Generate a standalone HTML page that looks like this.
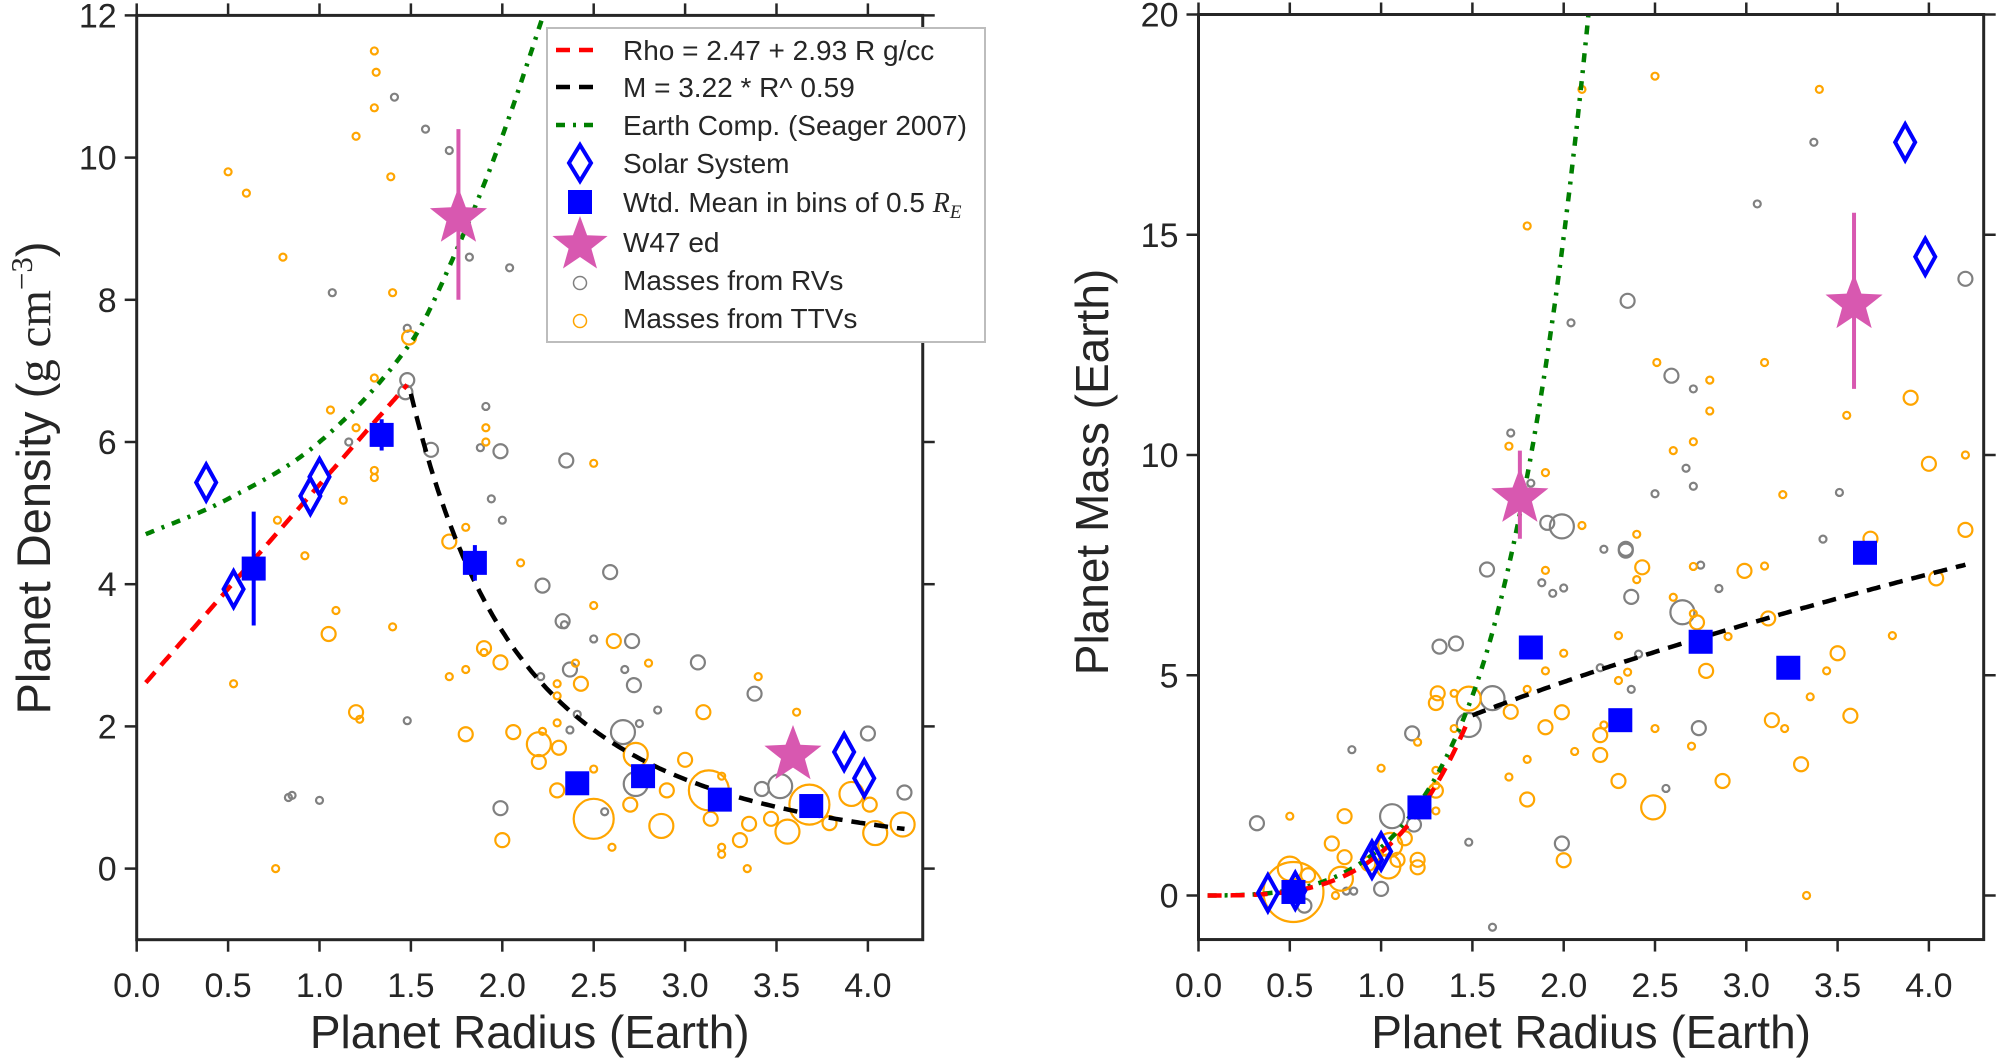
<!DOCTYPE html>
<html><head><meta charset="utf-8"><style>
html,body{margin:0;padding:0;background:#fff;}
svg{display:block;}
text{font-family:"Liberation Sans",sans-serif;fill:#262626;}
</style></head><body>
<svg id="chart" width="2000" height="1060" viewBox="0 0 2000 1060" xmlns="http://www.w3.org/2000/svg">
<g id="left"></g>
<g id="right"></g>
</svg>
<script>
// ---------- data ----------
const rvR   = [1.41,1.58,1.71,1.82,2.04,1.07,1.48,1.48,1.47,1.91,1.61,1.88,1.99,2.35,1.16,1.94,2.0,2.22,2.59,2.33,2.34,2.50,2.71,2.67,2.72,2.37,2.21,3.07,3.38,2.85,2.41,2.66,2.75,2.37,2.73,3.42,3.52,4.0,4.2,2.56,1.99,1.48,0.83,0.85,1.0];
const rvRho = [10.85,10.4,10.1,8.6,8.45,8.1,7.6,6.87,6.7,6.5,5.89,5.92,5.87,5.74,6.0,5.2,4.9,3.98,4.17,3.48,3.43,3.23,3.2,2.8,2.58,2.8,2.7,2.9,2.46,2.23,2.17,1.92,2.04,1.95,1.19,1.12,1.16,1.9,1.07,0.8,0.85,2.08,1.0,1.03,0.96];
const rvSz  = [1,1,1,1,1,1,1,2,2,1,2,1,2,2,1,1,1,2,2,2,1,1,2,1,2,2,1,2,2,1,1,3,1,1,3,2,3,2,2,1,2,1,1,1,1];
const ttvR   = [1.30,1.31,1.30,1.20,1.39,0.50,0.60,0.80,1.40,1.49,1.30,1.06,1.20,1.30,1.30,1.13,0.77,0.92,1.09,1.05,1.40,0.53,1.20,1.22,0.76,1.91,1.91,2.50,1.80,1.71,2.10,2.50,1.90,1.90,1.99,1.80,1.71,2.61,2.40,2.80,3.40,3.61,3.10,1.80,2.06,2.22,2.20,2.20,2.31,2.43,2.30,2.30,2.30,2.30,3.00,2.73,2.90,2.50,2.50,2.70,2.87,2.60,2.00,3.13,3.14,3.20,3.20,3.20,3.34,3.30,3.35,3.47,3.56,3.68,3.79,3.91,4.01,4.04,4.19];
const ttvRho = [11.5,11.2,10.7,10.3,9.73,9.8,9.5,8.6,8.1,7.47,6.9,6.45,6.2,5.6,5.5,5.18,4.9,4.4,3.63,3.3,3.4,2.6,2.2,2.1,0,6.2,6.0,5.7,4.8,4.6,4.3,3.7,3.1,3.04,2.9,2.8,2.7,3.2,2.89,2.89,2.7,2.2,2.2,1.89,1.92,1.93,1.75,1.5,1.7,2.6,2.6,2.43,2.05,1.1,1.53,1.6,1.1,1.4,0.7,0.9,0.6,0.3,0.4,1.1,0.7,1.3,0.3,0.2,0,0.4,0.63,0.7,0.52,0.9,0.64,1.05,0.9,0.5,0.62];
const ttvSz  = [1,1,1,1,1,1,1,1,1,2,1,1,1,1,1,1,1,1,1,2,1,1,2,1,1,1,1,1,1,2,1,1,2,1,2,1,1,2,1,1,1,1,2,2,2,1,3,2,2,2,1,1,1,2,2,3,2,1,4,2,3,1,2,4,2,1,1,1,1,2,2,2,3,4,2,3,2,3,3];
const rvR2 = [3.37,3.06,4.2,2.35,2.04,2.59,2.71,1.71,2.67,2.71,3.51,2.50,1.82,1.91,1.99,3.42,2.22,2.34,2.34,1.58,2.75,1.88,1.94,2.00,2.37,2.85,2.65,2.41,2.20,2.37,1.61,1.48,2.74,1.32,1.41,1.17,0.84,0.32,1.06,1.18,1.00,1.48,1.99,2.56,1.61,0.81,0.85,0.58];
const rvM2 = [17.1,15.7,14.0,13.5,13.0,11.8,11.5,10.5,9.7,9.29,9.15,9.12,9.36,8.46,8.38,8.09,7.86,7.87,7.83,7.4,7.5,7.1,6.86,6.98,6.78,6.97,6.43,5.48,5.17,4.68,4.48,3.87,3.8,5.65,5.72,3.68,3.31,1.64,1.8,1.61,0.15,1.21,1.18,2.43,-0.72,0.1,0.1,-0.23];
const rvSz2 = [1,1,2,2,1,2,1,1,1,1,1,1,1,2,3,1,1,2,2,2,1,1,1,1,2,1,3,1,1,1,3,3,2,2,2,2,1,2,3,2,2,1,2,1,1,1,1,2];
const ttvR2 = [2.50,3.40,2.10,1.80,2.51,3.10,2.80,3.90,2.80,3.55,2.60,2.71,1.70,4.2,4.0,1.90,3.20,2.10,2.40,3.68,4.2,2.43,2.71,3.10,2.99,1.90,2.40,4.04,2.60,2.71,2.73,3.12,2.90,2.30,3.80,2.00,3.50,2.78,1.90,2.35,2.30,3.44,1.80,1.71,1.99,1.90,2.22,2.50,2.20,3.35,3.57,3.14,3.21,2.70,2.20,2.06,3.30,2.30,2.87,1.70,1.80,1.80,2.49,2.0,3.33,1.30,1.30,1.30,1.30,1.20,1.40,1.30,1.31,1.40,1.48,1.00,0.50,0.80,0.73,0.80,1.05,1.13,1.04,1.09,1.20,1.20,0.78,0.60,0.50,0.52,0.75,0.93];
const ttvM2 = [18.6,18.3,18.3,15.2,12.1,12.1,11.7,11.3,11.0,10.9,10.1,10.3,10.2,10.0,9.8,9.6,9.1,8.4,8.2,8.1,8.3,7.45,7.47,7.48,7.37,7.38,7.17,7.2,6.77,6.4,6.2,6.29,5.88,5.9,5.9,5.5,5.5,5.1,5.1,5.07,4.88,5.1,4.68,4.17,4.16,3.82,3.87,3.79,3.64,4.51,4.08,3.98,3.79,3.39,3.19,3.27,2.98,2.6,2.6,2.69,3.09,2.18,2.0,0.8,0,2.84,2.38,2.5,1.92,3.48,3.79,4.37,4.59,4.59,4.47,2.89,1.8,1.8,1.18,0.87,1.15,1.3,0.66,0.81,0.81,0.64,0.38,0.46,0.61,0.08,0.0,0.72];
const ttvSz2 = [1,1,1,1,1,1,1,2,1,1,1,1,1,1,2,1,1,1,1,2,2,2,1,1,2,1,1,2,1,1,2,2,1,1,1,1,2,2,1,1,1,1,1,2,2,2,1,1,2,1,2,2,1,1,2,1,2,2,2,1,1,2,3,2,1,1,2,1,1,1,1,2,2,1,3,1,1,2,2,2,3,2,3,2,2,2,3,2,3,5,1,2];
const ssR = [0.38,0.53,0.95,1.0,3.87,3.98];
const ssRho = [5.43,3.93,5.24,5.51,1.64,1.27];
const ssM = [0.055,0.107,0.815,1.0,17.1,14.5];
const binR = [0.64,1.34,1.85,2.41,2.77,3.19,3.69];
const binRho = [4.22,6.1,4.3,1.2,1.3,0.97,0.88];
const binRhoErr = [0.8,0.22,0.25,0.05,0.05,0.05,0.05];
const binR2 = [0.52,1.21,1.82,2.31,2.75,3.23,3.65];
const binM2 = [0.08,2.0,5.63,3.98,5.76,5.17,7.78];
const binMErr = [0.1,0.1,0.1,0.1,0.1,0.15,0.2];
const wR = [1.76,3.59];
const wRho = [9.2,1.64];
const wRhoErr = [1.2,0.0];
const wM = [9.1,13.5];
const wMErr = [1.0,2.0];
const ecR = [0.0,0.5,1.0,1.5,1.75,2.0,2.25];
const ecRho = [4.65,5.2,6.0,7.4,8.7,10.3,12.2];
const tickL = [0,2,4,6,8,10,12];
const tickR = [0,5,10,15,20];
const tickX = [0.0,0.5,1.0,1.5,2.0,2.5,3.0,3.5,4.0];

// ---------- helpers ----------
const NS = "http://www.w3.org/2000/svg";
function mk(tag, attrs, parent){const e=document.createElementNS(NS,tag);for(const k in attrs)e.setAttribute(k,attrs[k]);parent.appendChild(e);return e;}
const sizePx = [0,3.5,7,12,20,30];
function ecDensity(r){
  const n=ecR.length-1;
  if(r<=ecR[0])return ecRho[0];
  let i=1;while(i<n&&r>ecR[i])i++;
  const x1=ecR[i-1],x2=ecR[i],y1=ecRho[i-1],y2=ecRho[i];
  const y0=i>1?ecRho[i-2]:2*y1-y2, x0=i>1?ecR[i-2]:2*x1-x2;
  const y3=i<n?ecRho[i+1]:2*y2-y1, x3=i<n?ecR[i+1]:2*x2-x1;
  const m1=(y2-y0)/(x2-x0)*(x2-x1), m2=(y3-y1)/(x3-x1)*(x2-x1);
  const t=(r-x1)/(x2-x1),t2=t*t,t3=t2*t;
  return (2*t3-3*t2+1)*y1+(t3-2*t2+t)*m1+(-2*t3+3*t2)*y2+(t3-t2)*m2;
}
const rhoFit = r=>2.47+2.93*r;
const mFit = r=>3.22*Math.pow(r,0.59);
function starPts(cx,cy,R){const r=R*0.42;let p=[];for(let i=0;i<10;i++){const a=-Math.PI/2+i*Math.PI/5;const rr=i%2?r:R;p.push((cx+rr*Math.cos(a)).toFixed(1)+","+(cy+rr*Math.sin(a)).toFixed(1));}return p.join(" ");}

function panel(g, P){
  const X=v=>P.x0+v*P.xs, Y=v=>P.y0-v*P.ys;
  const L=P.x0, Rg=X(4.3), T=Y(P.ymax), B=Y(-1);
  const clipId="clip"+P.id;
  const defs=mk("defs",{},g);
  const cp=mk("clipPath",{id:clipId},defs);
  mk("rect",{x:L,y:T,width:Rg-L,height:B-T},cp);
  const plot=mk("g",{"clip-path":"url(#"+clipId+")"},g);
  
  
  P.rvx.forEach((r,i)=>{const c=mk("circle",{cx:X(r),cy:Y(P.rvy[i]),r:sizePx[P.rvs[i]],fill:"none",stroke:"#808080","stroke-width":2.2},plot);
    
    });
  P.ttx.forEach((r,i)=>{const c=mk("circle",{cx:X(r),cy:Y(P.tty[i]),r:sizePx[P.tts[i]],fill:"none",stroke:"#ffa500","stroke-width":2.2},plot);
    
    });
  function curve(f,a,b,style,name){let d="";for(let k=0;k<=200;k++){const r=a+(b-a)*k/200;d+=(k?"L":"M")+X(r).toFixed(1)+","+Y(f(r)).toFixed(1);}
    const p=mk("path",Object.assign({d:d,fill:"none"},style),plot);
    
    }
  curve(P.ec,0.05,P.ecMax,{stroke:"#007f00","stroke-width":4.5,"stroke-dasharray":"9,8,3,8"},"earth-composition-curve");
  curve(P.red,0.05,1.48,{stroke:"#ff0000","stroke-width":4.5,"stroke-dasharray":"14,9"},"density-fit-line");
  curve(P.blk,1.5,4.2,{stroke:"#000","stroke-width":4.5,"stroke-dasharray":"14,9"},"mass-fit-line");
  P.ssx.forEach((r,i)=>{const cx=X(r),cy=Y(P.ssy[i]);const d=mk("polygon",{points:`${cx},${cy-18} ${cx+10},${cy} ${cx},${cy+18} ${cx-10},${cy}`,fill:"none",stroke:"#0000ff","stroke-width":4},plot);
    
    });
  P.bx.forEach((r,i)=>{const cx=X(r),cy=Y(P.by[i]);const e=P.be[i]*P.ys;
    const l=mk("line",{x1:cx,x2:cx,y1:cy-e,y2:cy+e,stroke:"#0000ff","stroke-width":4},plot);
    
    
    const s=mk("rect",{x:cx-12,y:cy-12,width:24,height:24,fill:"#0000ff"},plot);
    
    });
  P.wx.forEach((r,i)=>{const cx=X(r),cy=Y(P.wy[i]);const e=P.we[i]*P.ys;
    if(e>0){const l=mk("line",{x1:cx,x2:cx,y1:cy-e,y2:cy+e,stroke:"#d858b0","stroke-width":4},plot);
      
      }
    const s=mk("polygon",{points:starPts(cx,cy+3,30),fill:"#d858b0"},plot);
    
    });
  const f=mk("rect",{x:L,y:T,width:Rg-L,height:B-T,fill:"none",stroke:"#262626","stroke-width":3},g);
  
  
  P.yt.forEach(v=>{const y=Y(v);
    mk("line",{x1:L-12,x2:L,y1:y,y2:y,stroke:"#262626","stroke-width":2.5},g);
    mk("line",{x1:Rg,x2:Rg+12,y1:y,y2:y,stroke:"#262626","stroke-width":2.5},g);
    const t=mk("text",{x:L-20,y:y+12,"text-anchor":"end","font-size":34},g);t.textContent=String(v);
    
    });
  tickX.forEach(v=>{const x=X(v);
    mk("line",{x1:x,x2:x,y1:T-12,y2:T,stroke:"#262626","stroke-width":2.5},g);
    mk("line",{x1:x,x2:x,y1:B,y2:B+12,stroke:"#262626","stroke-width":2.5},g);
    const t=mk("text",{x:x,y:997,"text-anchor":"middle","font-size":34},g);t.textContent=v.toFixed(1);
    
    });
  const xl=mk("text",{x:(L+Rg)/2,y:1048,"text-anchor":"middle","font-size":46},g);xl.textContent="Planet Radius (Earth)";
  
  
}

panel(document.getElementById("left"),{id:"L",x0:136.7,xs:182.8,y0:868.6,ys:71.1,ymax:12,yt:tickL,
  rvx:rvR,rvy:rvRho,rvs:rvSz,ttx:ttvR,tty:ttvRho,tts:ttvSz,ec:ecDensity,ecMax:2.3,red:rhoFit,blk:r=>5.51*mFit(r)/(r*r*r),
  ssx:ssR,ssy:ssRho,bx:binR,by:binRho,be:binRhoErr,wx:wR,wy:wRho,we:wRhoErr});
panel(document.getElementById("right"),{id:"R",x0:1198.5,xs:182.6,y0:895.5,ys:44.05,ymax:20,yt:tickR,
  rvx:rvR2,rvy:rvM2,rvs:rvSz2,ttx:ttvR2,tty:ttvM2,tts:ttvSz2,ec:r=>ecDensity(r)*r*r*r/5.51,ecMax:2.2,red:r=>rhoFit(r)*r*r*r/5.51,blk:mFit,
  ssx:ssR,ssy:ssM,bx:binR2,by:binM2,be:binMErr,wx:wR,wy:wM,we:wMErr});
</script>
<script>
(function(){
const svg=document.getElementById("chart");const NS="http://www.w3.org/2000/svg";
function mk(tag,a,p){const e=document.createElementNS(NS,tag);for(const k in a)e.setAttribute(k,a[k]);p.appendChild(e);return e;}
const yl=mk("text",{transform:"translate(50,478) rotate(-90)","text-anchor":"middle","font-size":47},svg);


yl.innerHTML='Planet Density (<tspan font-family="Liberation Serif,serif">g cm</tspan><tspan font-family="Liberation Serif,serif" font-size="31" dy="-18">−3</tspan><tspan dy="18">)</tspan>';
const yr=mk("text",{transform:"translate(1108,472) rotate(-90)","text-anchor":"middle","font-size":46},svg);


yr.textContent="Planet Mass (Earth)";
const lg=mk("g",{},svg);


mk("rect",{x:547,y:28,width:438,height:314,fill:"#fff",stroke:"#bdbdbd","stroke-width":2},lg);
const rows=[50,87,125,163,202,242,280,318];
const labels=["Rho = 2.47 + 2.93 R g/cc","M = 3.22 * R^ 0.59","Earth Comp. (Seager 2007)","Solar System","","W47 ed","Masses from RVs","Masses from TTVs"];
mk("line",{x1:556,x2:600,y1:50,y2:50,stroke:"#ff0000","stroke-width":4.5,"stroke-dasharray":"14,9"},lg);
mk("line",{x1:556,x2:600,y1:87,y2:87,stroke:"#000","stroke-width":4.5,"stroke-dasharray":"14,9"},lg);
mk("line",{x1:556,x2:600,y1:125,y2:125,stroke:"#007f00","stroke-width":4.5,"stroke-dasharray":"9,8,3,8"},lg);
mk("polygon",{points:"580,145 591,163 580,181 569,163",fill:"none",stroke:"#0000ff","stroke-width":4},lg);
mk("rect",{x:568,y:190,width:24,height:24,fill:"#0000ff"},lg);
let p=[];for(let i=0;i<10;i++){const a=-Math.PI/2+i*Math.PI/5;const rr=i%2?12:29;p.push((580+rr*Math.cos(a)).toFixed(1)+","+(245+rr*Math.sin(a)).toFixed(1));}
mk("polygon",{points:p.join(" "),fill:"#d858b0"},lg);
mk("circle",{cx:580,cy:283,r:6.5,fill:"none",stroke:"#808080","stroke-width":1.5},lg);
mk("circle",{cx:580,cy:321,r:6.5,fill:"none",stroke:"#ffa500","stroke-width":1.5},lg);
labels.forEach((s,i)=>{const t=mk("text",{x:623,y:rows[i]+10,"font-size":28},lg);
  
  
  if(i===4){t.innerHTML='Wtd. Mean in bins of 0.5 <tspan font-family="Liberation Serif,serif" font-style="italic">R</tspan><tspan font-family="Liberation Serif,serif" font-style="italic" font-size="19" dy="6">E</tspan>';}
  else t.textContent=s;});
})();
</script>
</body></html>
